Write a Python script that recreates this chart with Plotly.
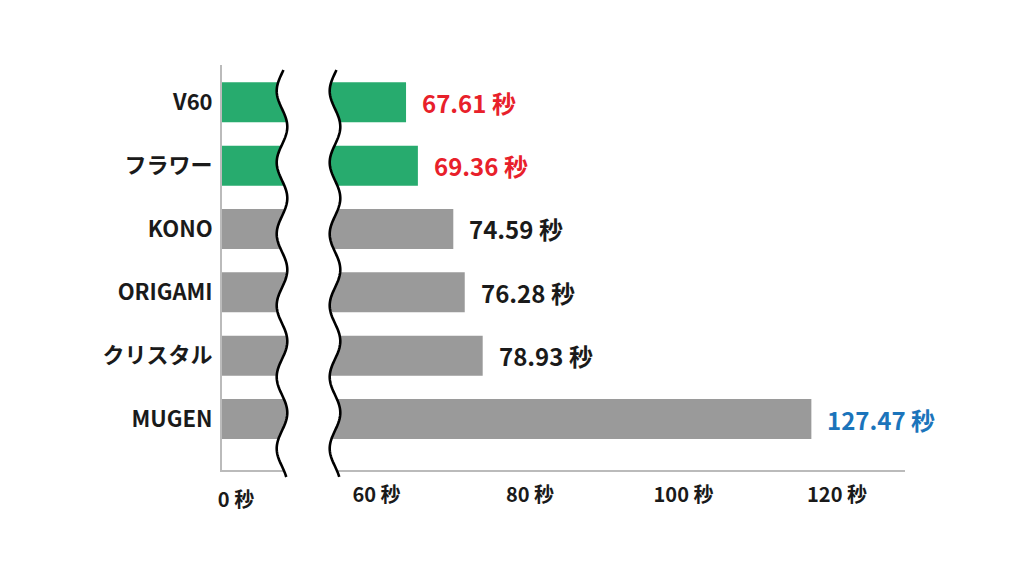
import numpy as np
import plotly.graph_objects as go

# data
brewers = ["V60", "フラワー", "KONO", "ORIGAMI", "クリスタル", "MUGEN"]
seconds = [67.61, 69.36, 74.59, 76.28, 78.93, 127.47]
bar_colors = ["#27ab6e", "#27ab6e", "#9a9a9a", "#9a9a9a", "#9a9a9a", "#9a9a9a"]
label_colors = ["#e8202a", "#e8202a", "#1a1a1a", "#1a1a1a", "#1a1a1a", "#1b74bb"]
tick_vals = [60, 80, 100, 120]
tick_text = ["60 秒", "80 秒", "100 秒", "120 秒"]

FONT = "Noto Sans CJK JP"
W, H = 1024, 576
OFF = 8  # page body margin around the plotly div
L, R, T, B = 222, 905, 65, 470  # plot area in page pixels


def px_x(px):
    return (px - L) / (R - L)


def px_y(py):
    return (B - py) / (B - T)


# wavy break lines (decoration)
ys = np.linspace(70, 477, 240)
phase = 2 * np.pi * (ys - 91) / 71.5
left_x = 282 - 5.3 * np.cos(phase)
right_x = 335 - 5.3 * np.cos(phase)


def path_of(xs, yy):
    pts = ["%.5f,%.5f" % (px_x(a), px_y(b)) for a, b in zip(xs, yy)]
    return "M" + " L".join(pts)


gap_path = path_of(np.concatenate([left_x, right_x[::-1]]),
                   np.concatenate([ys, ys[::-1]])) + " Z"

fig = go.Figure()
fig.add_trace(go.Bar(x=seconds, y=brewers, orientation="h", marker_color=bar_colors,
                     marker_line_width=0, xaxis="x", yaxis="y", hoverinfo="skip"))
fig.add_trace(go.Bar(x=seconds, y=brewers, orientation="h", marker_color=bar_colors,
                     marker_line_width=0, xaxis="x2", yaxis="y", hoverinfo="skip"))
fig.add_trace(go.Scatter(x=[], y=[], xaxis="x3", yaxis="y", showlegend=False))

for name, v, c in zip(brewers, seconds, label_colors):
    fig.add_annotation(x=v, y=name, xref="x2", yref="y", text="%.2f 秒" % v,
                       xanchor="left", yanchor="middle", xshift=14, showarrow=False,
                       font=dict(family=FONT, size=24, color=c, weight=700))

fig.add_shape(type="path", path=gap_path, xref="paper", yref="paper",
              fillcolor="white", line_width=0, layer="above")
for xs in (left_x, right_x):
    fig.add_shape(type="path", path=path_of(xs, ys), xref="paper", yref="paper",
                  line=dict(color="black", width=2.6), layer="above")

tick_font = dict(family=FONT, size=20, color="#1a1a1a", weight=700)
cat_font = dict(family=FONT, size=22, color="#1a1a1a", weight=700)
fig.update_layout(
    width=W, height=H,
    margin=dict(l=L - OFF, r=W - R + OFF, t=T - OFF, b=H - B + OFF, pad=0),
    paper_bgcolor="white", plot_bgcolor="white",
    showlegend=False, barmode="overlay", bargap=0.368, hovermode=False,
    xaxis=dict(domain=[0, px_x(288)], range=[0, 8], anchor="y",
               showline=True, linecolor="#bbbbbb", linewidth=2,
               showgrid=False, zeroline=False, ticks="",
               tickvals=[0], ticktext=["0 秒"], ticklabelshift=14,
               ticklabelstandoff=11, tickfont=tick_font),
    xaxis2=dict(domain=[px_x(330), 1], range=[56.38, 141.3], anchor="y",
                showline=True, linecolor="#bbbbbb", linewidth=2,
                showgrid=False, zeroline=False, ticks="", showticklabels=False),
    xaxis3=dict(overlaying="x2", range=[53.94, 128.86], anchor="y", side="bottom",
                showline=False, showgrid=False, zeroline=False, ticks="",
                tickvals=tick_vals, ticktext=tick_text,
                ticklabelstandoff=11, tickfont=tick_font),
    yaxis=dict(domain=[0, 1], anchor="x", type="category",
               categoryorder="array", categoryarray=brewers,
               range=[5.805, -0.589],
               showline=True, linecolor="#bbbbbb", linewidth=2,
               showgrid=False, zeroline=False, ticks="",
               ticklabelstandoff=3, tickfont=cat_font),
)

fig.write_html("out.html")
